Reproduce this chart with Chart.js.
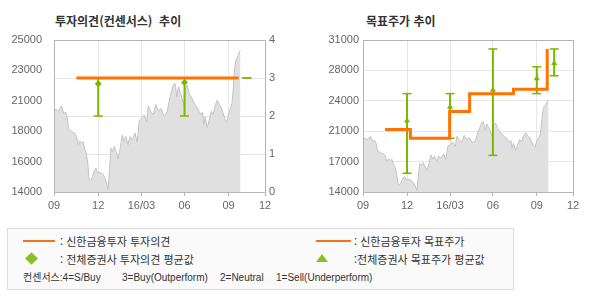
<!DOCTYPE html>
<html lang="ko">
<head>
<meta charset="UTF-8">
<script src="https://cdn.jsdelivr.net/npm/chart.js@4.4.0/dist/chart.umd.min.js"></script>
<title>투자의견 / 목표주가 추이</title>
<style>
body { margin:0; width:590px; height:300px; background:#fff; position:relative; overflow:hidden;
       font-family:'Noto Sans CJK KR', sans-serif; color:#333; }
.title { position:absolute; top:12px; line-height:17px; font-size:12px; font-weight:bold; color:#333; white-space:pre; }
canvas { position:absolute; top:0; }
#legend { position:absolute; left:7px; top:228px; width:505px; height:60px; border:1px solid #dcdcdc; background:#fafafa; }
#legend span { position:absolute; white-space:pre; line-height:14px; }
.t { font-size:11px; }
.s { font-size:10px; font-family:'Liberation Sans', 'Noto Sans CJK KR', sans-serif; }
.oline { position:absolute; height:2px; background:#f47216; }
.dia { position:absolute; width:9px; height:9px; background:#88c21f; transform:rotate(45deg); }
.tri { position:absolute; width:0; height:0; border-left:6.5px solid transparent; border-right:6.5px solid transparent; border-bottom:8px solid #88c21f; }
</style>
</head>
<body>
<div class="title" style="left:55px">투자의견(컨센서스)  추이</div>
<div class="title" style="left:366px">목표주가 추이</div>
<canvas id="opinionChart" width="295" height="220" style="left:0"></canvas>
<canvas id="targetChart" width="295" height="220" style="left:295px"></canvas>
<div id="legend">
  <div class="oline" style="left:15px;top:11px;width:32px"></div>
  <span class="t" style="left:52px;top:5px">: 신한금융투자 투자의견</span>
  <div class="oline" style="left:308px;top:11px;width:35px"></div>
  <span class="t" style="left:346px;top:5px">: 신한금융투자 목표주가</span>
  <div class="dia" style="left:19px;top:25px"></div>
  <span class="t" style="left:52px;top:23px">: 전체증권사 투자의견 평균값</span>
  <div class="tri" style="left:308px;top:25px"></div>
  <span class="t" style="left:346px;top:23px">:전체증권사 목표주가 평균값</span>
  <span class="s" style="left:15px;top:42px">컨센서스:4=S/Buy</span>
  <span class="s" style="left:114px;top:42px">3=Buy(Outperform)</span>
  <span class="s" style="left:212px;top:42px">2=Neutral</span>
  <span class="s" style="left:268px;top:42px">1=Sell(Underperform)</span>
</div>
<script>
// x axis runs in months counted from 2015/09
var xTickPos = [0, 3.04, 6.01, 8.97, 12, 14.5];
var xTickLabels = ['09', '12', '16/03', '06', '09', '12'];

// share price (grey area)
var priceMonth = [0.00,0.16,0.32,0.51,0.67,0.81,0.90,1.01,1.13,1.27,1.43,1.54,1.68,1.77,1.91,2.00,2.12,2.23,2.32,2.41,
  2.53,2.65,2.76,2.88,2.99,3.15,3.34,3.50,3.61,3.72,3.82,3.91,4.03,4.14,4.30,4.41,4.53,4.69,4.81,4.94,
  5.08,5.22,5.38,5.57,5.72,5.86,6.02,6.19,6.37,6.48,6.67,6.83,6.99,7.17,7.36,7.54,7.75,7.91,8.05,8.21,
  8.32,8.44,8.55,8.69,8.83,8.92,9.03,9.15,9.29,9.48,9.66,9.82,9.98,10.12,10.21,10.30,10.39,10.53,10.67,10.81,
  10.94,11.08,11.22,11.36,11.50,11.63,11.77,11.89,12.00,12.12,12.23,12.32,12.41,12.51,12.62,12.72,12.81];
var priceValue = [19930,20000,19860,20240,19690,19770,19450,18570,18490,18330,18260,18010,17420,17700,17540,17650,17060,16750,16100,14970,
  14830,15140,15550,15740,15380,15420,15310,15020,14660,14160,15740,17180,16930,17290,16820,16410,17060,18130,17700,18010,
  17420,18010,17770,18260,17610,19140,19330,19570,19090,20240,19770,19620,20340,19860,20050,19520,19690,20530,21200,21780,
  21850,20890,21610,21200,20650,20290,21540,21730,21130,20770,20340,20170,19810,19620,19770,18900,19450,18660,19210,19860,
  19620,20290,20650,20340,20100,19690,19210,19050,19690,20050,20410,21490,22930,23600,23760,24120,24250];

// 신한금융투자 투자의견 (4=S/Buy ... 1=Sell)
var opinionMonth = [1.54, 12.69];
var opinionValue = [3, 3];
// 전체증권사 투자의견 range / average
var opRangeMonth = [3.04, 8.97, 13.25];
var opRangeHigh = [3, 3, 3];
var opRangeLow = [2, 2, 3];
var opAverage = [2.85, 2.88, null];

// 신한금융투자 목표주가
var targetMonth = [1.52, 3.27, 5.98, 7.36, 10.39, 12.72];
var targetValue = [21000, 20000, 23000, 25000, 25500, 30000];
// 전체증권사 목표주가 range / average
var tpRangeMonth = [3.04, 6.01, 8.97, 12, 13.2];
var tpRangeHigh = [25000, 25000, 30000, 28000, 30000];
var tpRangeLow = [16100, 20000, 18100, 25000, 27000];
var tpAverage = [22000, 23500, 25400, 26700, 28400];

// axis labels
var opPriceTicks = ['14000', '16000', '18000', '21000', '23000', '25000'];
var opinionTicks = ['0', '1', '2', '3', '4'];
var tpPriceTicks = ['14000', '17000', '21000', '24000', '28000', '31000'];

var ORANGE = '#ff7400';
var GREEN = '#7ab800';
var tickFont = { family: "'Liberation Sans', Arial, sans-serif", size: 11 };

function pts(xs, ys) {
  return xs.map(function (x, i) { return { x: x, y: ys[i] }; });
}
function rangeLines(xs, lo, hi) {
  var out = [];
  xs.forEach(function (x, i) {
    out.push({ x: x, y: lo[i] }, { x: x, y: hi[i] }, { x: x, y: null });
  });
  return out;
}
function evenTicks(labels) {
  return function (scale) {
    var n = labels.length;
    scale.ticks = labels.map(function (l, i) {
      return { value: scale.min + i * (scale.max - scale.min) / (n - 1) };
    });
  };
}

var boxPlugin = {
  id: 'plotBox',
  afterDatasetsDraw: function (chart) {
    var a = chart.chartArea, ctx = chart.ctx;
    ctx.save();
    ctx.strokeStyle = '#b4b4b4';
    ctx.lineWidth = 1;
    ctx.strokeRect(Math.round(a.left) + 0.5, Math.round(a.top) + 0.5,
                   Math.round(a.right) - Math.round(a.left), Math.round(a.bottom) - Math.round(a.top));
    ctx.restore();
  }
};

function xAxis() {
  return {
    type: 'linear', min: 0, max: 14.5,
    afterBuildTicks: function (scale) {
      scale.ticks = xTickPos.map(function (v) { return { value: v }; });
    },
    afterFit: function (scale) { scale.height = 28; },
    border: { display: false },
    grid: { color: '#e6e6e6', tickColor: '#b4b4b4', tickLength: 4 },
    ticks: {
      font: tickFont, color: '#666', padding: 3, maxRotation: 0, autoSkip: false,
      callback: function (v, i) { return xTickLabels[i]; }
    }
  };
}

function priceSet() {
  return {
    type: 'line', data: pts(priceMonth, priceValue), yAxisID: 'y',
    borderColor: '#c4c4c4', borderWidth: 1, backgroundColor: '#e0e0e0',
    fill: 'start', pointRadius: 0, tension: 0, order: 9
  };
}

function rangeSets(xs, lo, hi, avg, axis, style) {
  var caps = pts(xs, lo).concat(pts(xs, hi));
  return [
    { type: 'line', data: rangeLines(xs, lo, hi), yAxisID: axis, spanGaps: false,
      borderColor: GREEN, borderWidth: 2, pointRadius: 0, order: 3 },
    { type: 'scatter', data: caps, yAxisID: axis, pointStyle: 'line', pointRadius: 4.5,
      pointBorderColor: GREEN, pointBorderWidth: 1.5, order: 3 },
    { type: 'scatter', data: pts(xs, avg).filter(function (p) { return p.y !== null; }), yAxisID: axis,
      pointStyle: style, pointRadius: 3.5, pointBackgroundColor: GREEN, pointBorderColor: GREEN,
      pointBorderWidth: 0, order: 0 }
  ];
}

Chart.defaults.animation = false;
Chart.defaults.events = [];
Chart.defaults.plugins.legend.display = false;
Chart.defaults.plugins.tooltip.enabled = false;

new Chart(document.getElementById('opinionChart'), {
  type: 'line',
  data: {
    datasets: [
      priceSet(),
      { type: 'line', data: pts(opinionMonth, opinionValue), yAxisID: 'y1', stepped: true,
        borderColor: ORANGE, borderWidth: 3, pointRadius: 0, order: 1 }
    ].concat(rangeSets(opRangeMonth, opRangeLow, opRangeHigh, opAverage, 'y1', 'rectRot'))
  },
  options: {
    responsive: false,
    layout: { padding: { top: 40, left: 0, right: 0, bottom: 0 } },
    scales: {
      x: xAxis(),
      y: {
        position: 'left', min: 14000, max: 25000,
        afterBuildTicks: evenTicks(opPriceTicks),
        afterFit: function (scale) { scale.width = 54; },
        border: { display: false },
        grid: { display: false },
        ticks: { font: tickFont, color: '#666', padding: 4,
                 callback: function (v, i) { return opPriceTicks[i]; } }
      },
      y1: {
        position: 'right', min: 0, max: 4,
        afterBuildTicks: evenTicks(opinionTicks),
        afterFit: function (scale) { scale.width = 30; },
        border: { display: false },
        grid: { color: '#e6e6e6', drawTicks: false },
        ticks: { font: tickFont, color: '#666', padding: 4,
                 callback: function (v, i) { return opinionTicks[i]; } }
      }
    }
  },
  plugins: [boxPlugin]
});

new Chart(document.getElementById('targetChart'), {
  type: 'line',
  data: {
    datasets: [
      priceSet(),
      { type: 'line', data: pts(targetMonth, targetValue), yAxisID: 'y', stepped: true,
        borderColor: ORANGE, borderWidth: 3, pointRadius: 0, order: 1 }
    ].concat(rangeSets(tpRangeMonth, tpRangeLow, tpRangeHigh, tpAverage, 'y', 'triangle'))
  },
  options: {
    responsive: false,
    layout: { padding: { top: 40, left: 0, right: 17, bottom: 0 } },
    scales: {
      x: xAxis(),
      y: {
        position: 'left', min: 14000, max: 31000,
        afterBuildTicks: evenTicks(tpPriceTicks),
        afterFit: function (scale) { scale.width = 68; },
        border: { display: false },
        grid: { color: '#e6e6e6', drawTicks: false },
        ticks: { font: tickFont, color: '#666', padding: 4,
                 callback: function (v, i) { return tpPriceTicks[i]; } }
      }
    }
  },
  plugins: [boxPlugin]
});
</script>
</body>
</html>
